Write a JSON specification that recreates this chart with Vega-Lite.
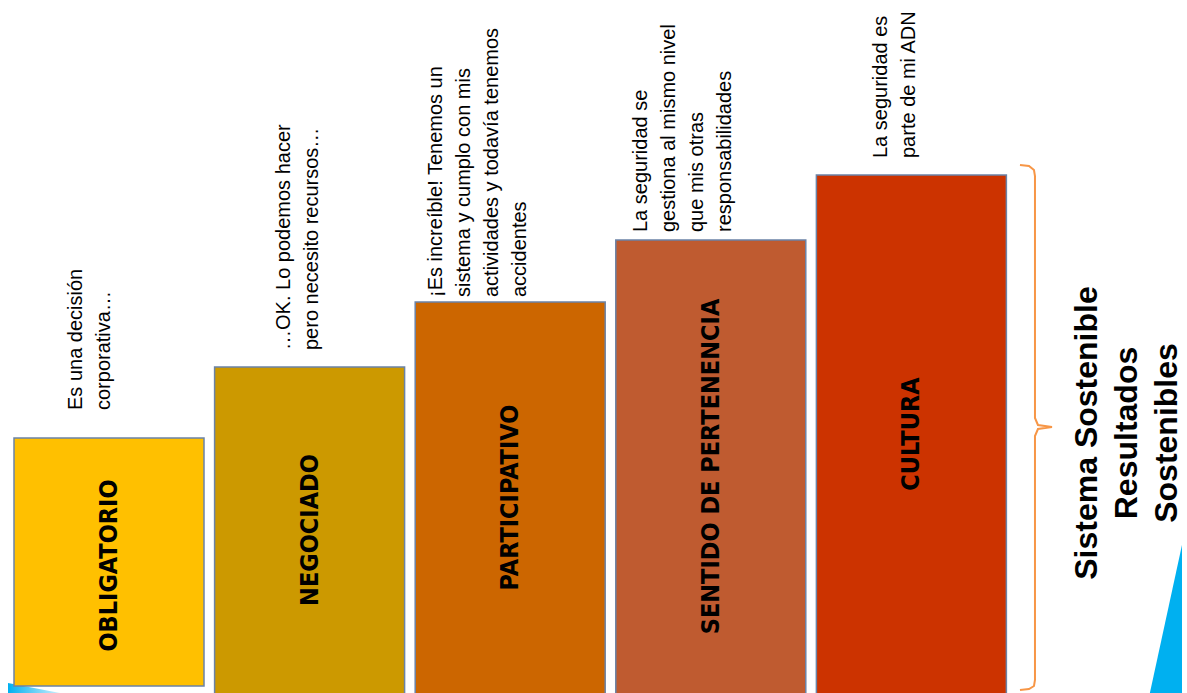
{
  "$schema": "https://vega.github.io/schema/vega-lite/v6.json",
  "width": 1187,
  "height": 693,
  "autosize": "none",
  "padding": 0,
  "background": "white",
  "config": {"view": {"stroke": null}, "scale": {"continuousPadding": 0}},
  "datasets": {
    "stages": [
      {"stage": "OBLIGATORIO", "step": 1, "top": 255, "base": 7},
      {"stage": "NEGOCIADO", "step": 2, "top": 326, "base": -10},
      {"stage": "PARTICIPATIVO", "step": 3, "top": 391, "base": -10},
      {"stage": "SENTIDO DE PERTENENCIA", "step": 4, "top": 453, "base": -10},
      {"stage": "CULTURA", "step": 5, "top": 518, "base": -10}
    ],
    "notes": [
      {"stage": "OBLIGATORIO", "note": "Es una decisión\ncorporativa…", "nx": 0.8355, "ny": 283},
      {"stage": "NEGOCIADO", "note": "…OK. Lo podemos hacer\npero necesito recursos…", "nx": 1.8724, "ny": 343},
      {"stage": "PARTICIPATIVO", "note": "¡Es increíble! Tenemos un\nsistema y cumplo con mis\nactividades y todavía tenemos\naccidentes", "nx": 2.6301, "ny": 396},
      {"stage": "SENTIDO DE PERTENENCIA", "note": "La seguridad se\ngestiona al mismo nivel\nque mis otras\nresponsabilidades", "nx": 3.652, "ny": 461},
      {"stage": "CULTURA", "note": "La seguridad es\nparte de mi ADN", "nx": 4.8485, "ny": 535}
    ],
    "brace": [
      {"i": 1, "bx": 5.5414, "by": 528},
      {"i": 2, "bx": 5.5863, "by": 527},
      {"i": 3, "bx": 5.6112, "by": 523},
      {"i": 4, "bx": 5.6161, "by": 517},
      {"i": 5, "bx": 5.6161, "by": 275},
      {"i": 6, "bx": 5.6311, "by": 268},
      {"i": 7, "bx": 5.7009, "by": 266},
      {"i": 8, "bx": 5.6311, "by": 264},
      {"i": 9, "bx": 5.6161, "by": 257},
      {"i": 10, "bx": 5.6161, "by": 13},
      {"i": 11, "bx": 5.6112, "by": 7},
      {"i": 12, "bx": 5.5863, "by": 4},
      {"i": 13, "bx": 5.5414, "by": 3}
    ],
    "leftWedge": [
      {"wx": 0.4965, "wy": 10, "wy2": 0},
      {"wx": 0.7557, "wy": 0, "wy2": 0}
    ],
    "rightWedge": [
      {"wx": 6.189, "wy": 0, "wy2": 0},
      {"wx": 6.349, "wy": 148, "wy2": 0}
    ],
    "summary": [
      {"text": "Sistema  Sostenible\nResultados\nSostenibles", "sx": 5.8754, "sy": 260}
    ]
  },
  "layer": [
    {
      "data": {"name": "leftWedge"},
      "mark": {"type": "area", "clip": true, "fill": {"gradient": "linear", "x1": 0, "y1": 0, "x2": 1, "y2": 0, "stops": [{"offset": 0, "color": "#00B0F0"}, {"offset": 1, "color": "#CDEFFC"}]}},
      "encoding": {
        "x": {"field": "wx", "type": "quantitative", "scale": {"domain": [0.4566, 6.374], "nice": false, "zero": false, "padding": 0}, "axis": null},
        "y": {"field": "wy", "type": "quantitative", "scale": {"domain": [0, 693], "nice": false, "zero": false}, "axis": null},
        "y2": {"field": "wy2"}
      }
    },
    {
      "data": {"name": "rightWedge"},
      "mark": {"type": "area", "clip": true, "color": "#00B0F0"},
      "encoding": {
        "x": {"field": "wx", "type": "quantitative", "scale": {"domain": [0.4566, 6.374], "nice": false, "zero": false, "padding": 0}, "axis": null},
        "y": {"field": "wy", "type": "quantitative", "scale": {"domain": [0, 693], "nice": false, "zero": false}, "axis": null},
        "y2": {"field": "wy2"}
      }
    },
    {
      "data": {"name": "stages"},
      "mark": {"type": "bar", "width": 190, "clip": true, "stroke": "#6B83A6", "strokeWidth": 1.5},
      "encoding": {
        "x": {"field": "step", "type": "quantitative", "scale": {"domain": [0.4566, 6.374], "nice": false, "zero": false, "padding": 0}, "axis": null},
        "y": {"field": "top", "type": "quantitative", "scale": {"domain": [0, 693], "nice": false, "zero": false, "padding": 0}, "axis": null},
        "y2": {"field": "base"},
        "color": {"field": "stage", "type": "nominal", "legend": null, "scale": {"domain": ["OBLIGATORIO", "NEGOCIADO", "PARTICIPATIVO", "SENTIDO DE PERTENENCIA", "CULTURA"], "range": ["#FFC000", "#CC9900", "#CC6600", "#BF5B30", "#CC3300"]}}
      }
    },
    {
      "data": {"name": "stages"},
      "mark": {"type": "text", "angle": 270, "align": "center", "baseline": "middle", "font": "DejaVu Sans Condensed, sans-serif", "fontWeight": "bold", "fontSize": 25, "color": "#000000"},
      "encoding": {
        "x": {"field": "step", "type": "quantitative", "scale": {"domain": [0.4566, 6.374], "nice": false, "zero": false, "padding": 0}, "axis": null},
        "y": {"field": "top", "type": "quantitative", "scale": {"domain": [0, 1386], "nice": false, "zero": false}, "axis": null},
        "text": {"field": "stage", "type": "nominal"}
      }
    },
    {
      "data": {"name": "notes"},
      "mark": {"type": "text", "angle": 270, "align": "left", "baseline": "middle", "lineBreak": "\n", "lineHeight": 28, "font": "Liberation Sans, Arial, sans-serif", "fontSize": 20, "color": "#000000"},
      "encoding": {
        "x": {"field": "nx", "type": "quantitative", "scale": {"domain": [0.4566, 6.374], "nice": false, "zero": false, "padding": 0}, "axis": null},
        "y": {"field": "ny", "type": "quantitative", "scale": {"domain": [0, 693], "nice": false, "zero": false}, "axis": null},
        "text": {"field": "note", "type": "nominal"}
      }
    },
    {
      "data": {"name": "brace"},
      "mark": {"type": "line", "color": "#F79646", "strokeWidth": 2},
      "encoding": {
        "x": {"field": "bx", "type": "quantitative", "scale": {"domain": [0.4566, 6.374], "nice": false, "zero": false, "padding": 0}, "axis": null},
        "y": {"field": "by", "type": "quantitative", "scale": {"domain": [0, 693], "nice": false, "zero": false}, "axis": null},
        "order": {"field": "i", "type": "quantitative"}
      }
    },
    {
      "data": {"name": "summary"},
      "mark": {"type": "text", "angle": 270, "align": "center", "baseline": "middle", "lineBreak": "\n", "lineHeight": 40, "font": "Liberation Sans, Arial, sans-serif", "fontWeight": "bold", "fontSize": 32, "color": "#000000"},
      "encoding": {
        "x": {"field": "sx", "type": "quantitative", "scale": {"domain": [0.4566, 6.374], "nice": false, "zero": false, "padding": 0}, "axis": null},
        "y": {"field": "sy", "type": "quantitative", "scale": {"domain": [0, 693], "nice": false, "zero": false}, "axis": null},
        "text": {"field": "text", "type": "nominal"}
      }
    }
  ],
  "resolve": {"scale": {"y": "independent"}}
}
